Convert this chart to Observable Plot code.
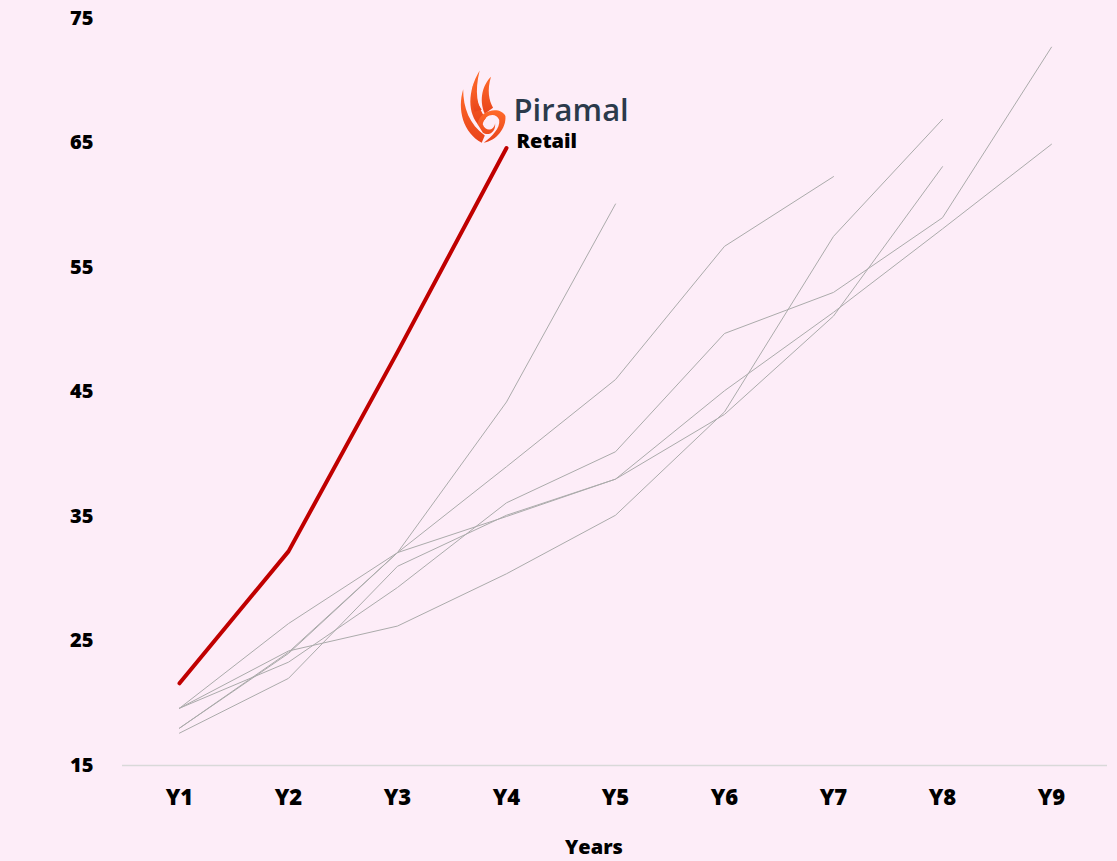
<!DOCTYPE html>
<html>
<head>
<meta charset="utf-8">
<script src="https://cdn.jsdelivr.net/npm/d3@7"></script>
<script src="https://cdn.jsdelivr.net/npm/@observablehq/plot@0.6"></script>
<style>
  html, body { margin: 0; padding: 0; background: #fdedf8; }
  #chart { width: 1117px; height: 861px; }
</style>
</head>
<body>
<div id="chart"></div>
<script>
// ---- data ----
const years = ["Y1", "Y2", "Y3", "Y4", "Y5", "Y6", "Y7", "Y8", "Y9"];
const yTicks = [15, 25, 35, 45, 55, 65, 75];
const piramal = [21.6, 32.2, 48.2, 64.6];
const peerA = [18.0, 24.1, 32.1, 44.2, 60.1];
const peerB = [19.6, 26.4, 32.1, 39.0, 46.0, 56.7, 62.3];
const peerC = [19.6, 24.2, 26.2, 30.4, 35.1, 43.4, 57.5, 66.9];
const peerD = [18.0, 24.0, 32.1, 35.0, 38.0, 43.2, 51.1, 63.1];
const peerE = [17.6, 22.0, 31.0, 35.1, 38.0, 45.1, 51.4, 58.1, 64.9];
const peerF = [19.6, 23.3, 29.3, 36.1, 40.2, 49.7, 53.0, 59.0, 72.7];
const peerNames = ["A", "B", "C", "D", "E", "F"];
const peers = [peerA, peerB, peerC, peerD, peerE, peerF];
const brandName = "Piramal";
const brandSub = "Retail";
const xLabel = "Years";

// ---- tables ----
const peerRows = peers.flatMap((vals, i) =>
  vals.map((v, j) => ({series: peerNames[i], year: years[j], value: v})));
const piramalRows = piramal.map((v, j) => ({year: years[j], value: v}));
const lastPoint = [piramalRows[piramalRows.length - 1]];

const font = "'Open Sans', 'Noto Sans', sans-serif";

const chart = Plot.plot({
  width: 1117,
  height: 861,
  marginLeft: 122,
  marginRight: 10,
  marginTop: 18,
  marginBottom: 96,
  style: {background: "transparent", fontFamily: font, color: "#000", overflow: "visible"},
  x: {type: "point", domain: years, padding: 0.5},
  y: {domain: [15, 75]},
  marks: [
    Plot.ruleY([15], {stroke: "#d9d9d9", strokeWidth: 1.5}),
    Plot.axisY({ticks: yTicks, tickSize: 0, tickPadding: 29, fontSize: 20, fontWeight: 800, label: null}),
    Plot.axisX({tickSize: 0, tickPadding: 24, fontSize: 22, fontWeight: 800, label: null}),
    Plot.text([xLabel], {frameAnchor: "bottom", dx: -21, dy: 88, fontSize: 20, fontWeight: 800, fill: "#000"}),
    Plot.line(peerRows, {x: "year", y: "value", z: "series", stroke: "#ababab", strokeWidth: 1}),
    Plot.line(piramalRows, {x: "year", y: "value", stroke: "#c00000", strokeWidth: 4, strokeLinecap: "round", strokeLinejoin: "round"}),
    Plot.text(lastPoint, {x: "year", y: "value", text: () => brandName, textAnchor: "start", dx: 7, dy: -37, fontSize: 31, fontWeight: 600, fill: "#2b3a4b"}),
    Plot.text(lastPoint, {x: "year", y: "value", text: () => brandSub, textAnchor: "start", dx: 10, dy: -6, fontSize: 20, fontWeight: 800, fill: "#000"})
  ]
});
document.getElementById("chart").appendChild(chart);

// ---- flame logo, positioned via the plot's scales ----
const px = chart.scale("x").apply(years[piramal.length - 1]);
const py = chart.scale("y").apply(piramal[piramal.length - 1]);
const ns = "http://www.w3.org/2000/svg";
const g = document.createElementNS(ns, "g");
g.setAttribute("transform", `translate(${px - 49},${py - 81}) scale(1.03)`);
g.innerHTML = `
  <defs>
    <linearGradient id="fl" x1="0" y1="0" x2="0" y2="1">
      <stop offset="0" stop-color="#ff6a2a"/>
      <stop offset="1" stop-color="#e8431a"/>
    </linearGradient>
  </defs>
  <path fill="url(#fl)" d="M24 74 C6 64 0 42 6 22 C6 40 12 56 27 67 Z"/>
  <path fill="url(#fl)" d="M22 58 C10 46 10 24 22 4 C17 24 19 40 28 50 Z"/>
  <path fill="url(#fl)" d="M27 46 C21 32 25 18 33 10 C29 23 31 33 35 40 Z"/>
  <path fill="url(#fl)" d="M17 44 C14 34 14 24 16 16 C17 28 20 36 24 42 Z"/>
  <path fill="url(#fl)" d="M20 56 C22 42 42 38 47 48 C48 60 38 72 26 74 C34 68 42 60 41 52 C38 44 27 46 25 56 C28 64 36 62 37 55 C38 64 30 68 25 64 Z"/>
`;
chart.appendChild(g);
</script>
</body>
</html>
